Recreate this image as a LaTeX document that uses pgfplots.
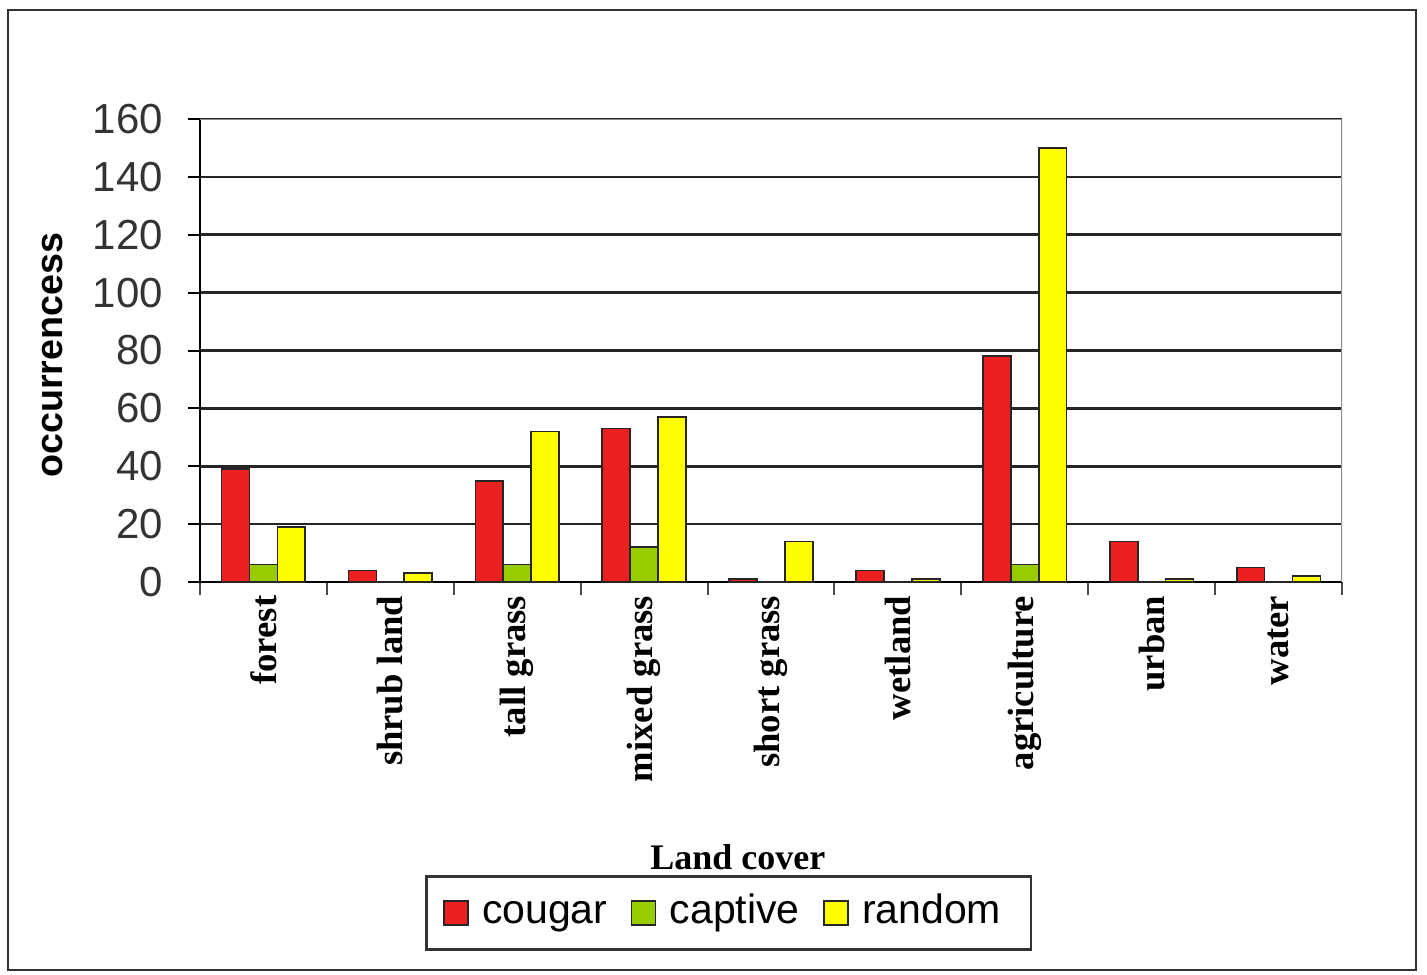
\documentclass[border=0pt]{standalone}
\usepackage{pgfplots}
\pgfplotsset{compat=1.18}
\usepackage{fontspec}
\setmainfont{Liberation Serif}
\setsansfont{Liberation Sans}

\definecolor{cougar}{RGB}{235,32,32}
\definecolor{captive}{RGB}{153,204,0}
\definecolor{random}{RGB}{255,255,0}

% 1 px of the reference = 0.3pt
\begin{document}
\begin{tikzpicture}
\path[use as bounding box] (0,0) rectangle (428.1pt,292.2pt);
\draw[black!80, line width=0.8pt] (2.4pt,1.2pt) rectangle (424.8pt,289.2pt);
\begin{axis}[
    at={(60pt,117.6pt)}, anchor=south west,
    scale only axis,
    width=342.6pt, height=138.9pt,
    ybar=0pt, bar width=0.22,
    xmin=-0.5, xmax=8.5,
    ymin=0, ymax=160,
    ytick={0,20,...,160},
    xtick={0,...,8},
    xticklabels={forest,shrub land,tall grass,mixed grass,short grass,wetland,agriculture,urban,water},
    minor xtick={-0.5,0.5,...,8.5},
    axis x line*=bottom, axis y line*=left,
    axis line style={black, line width=0.8pt},
    tick align=outside,
    major tick length=3.6pt, minor tick length=4pt,
    xtick style={draw=none},
    minor x tick style={black!70, line width=0.6pt, draw},
    ytick style={black, line width=0.6pt},
    ymajorgrids,
    grid style={black!85, line width=0.8pt},
    /pgf/number format/assume math mode=true,
    yticklabel style={font=\sffamily\fontsize{12.6}{14}\selectfont, text=black!80},
    yticklabel shift=4pt,
    xticklabel style={font=\bfseries\fontsize{11}{13}\selectfont, rotate=90, anchor=east},
    xticklabel shift=-3pt,
    xlabel={Land cover},
    xlabel style={font=\bfseries\fontsize{10.8}{13}\selectfont, at={(axis description cs:0.471,-0.594)}, anchor=center},
    ylabel={occurrencess},
    ylabel style={font=\sffamily\bfseries\fontsize{11.3}{13}\selectfont, at={(axis description cs:-0.129,0.49)}, anchor=center, rotate=0},
    legend columns=3,
    legend style={at={(axis description cs:0.463,-0.715)}, anchor=center,
        draw=black!80, line width=0.8pt, inner xsep=5pt, inner ysep=3pt,
        font=\sffamily\fontsize{12.3}{14}\selectfont,
        nodes={text height=9pt, text depth=3pt, inner xsep=4pt},
        /tikz/every odd column/.append style={column sep=0pt},
        /tikz/every even column/.append style={column sep=3pt}},
    legend image code/.code={\draw[#1, line width=0.5pt] (0pt,-3.6pt) rectangle (7.2pt,3.6pt);},
]
\addplot[fill=cougar, draw=black!85, line width=0.5pt] coordinates {
  (0,39) (1,4) (2,35) (3,53) (4,1) (5,4) (6,78) (7,14) (8,5)};
\addplot[fill=captive, draw=black!85, line width=0.5pt] coordinates {
  (0,6) (1,0) (2,6) (3,12) (4,0) (5,0) (6,6) (7,0) (8,0)};
\addplot[fill=random, draw=black!85, line width=0.5pt] coordinates {
  (0,19) (1,3) (2,52) (3,57) (4,14) (5,1) (6,150) (7,1) (8,2)};
\legend{cougar,captive,random}
\draw[black!45, line width=0.7pt] (rel axis cs:0,1) -- (rel axis cs:1,1) -- (rel axis cs:1,0);
\end{axis}
\end{tikzpicture}
\end{document}
